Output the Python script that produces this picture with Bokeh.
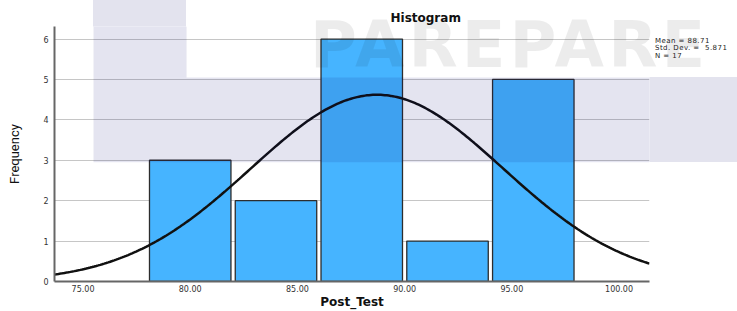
import numpy as np
from bokeh.plotting import figure
from bokeh.layouts import row
from bokeh.models import FixedTicker, BoxAnnotation, Range1d, Div
from bokeh.embed import file_html
from bokeh.resources import INLINE

# ---- data ----
bin_centers = [80, 84, 88, 92, 96]
frequencies = [3, 2, 6, 1, 5]
x_ticks = [75, 80, 85, 90, 95, 100]
x_tick_labels = ["75.00", "80.00", "85.00", "90.00", "95.00", "100.00"]
y_ticks = [0, 1, 2, 3, 4, 5, 6]
stat_mean = 88.71
stat_sd = 5.871
stat_n = 17
bin_width = 4
stats_lines = ["Mean = 88.71", "Std. Dev. =&nbsp; 5.871", "N = 17"]
watermark_text = "PAREPARE"

X_MIN, X_MAX = 73.67, 101.42
Y_MIN, Y_MAX = 0, 6.31
BAND = "#e3e3ee"

p = figure(width=652, height=311, output_backend="svg", toolbar_location=None,
           x_range=Range1d(X_MIN, X_MAX), y_range=Range1d(Y_MIN, Y_MAX),
           min_border_left=54, min_border_right=3, min_border_top=26, min_border_bottom=30)

p.background_fill_color = "white"
p.border_fill_alpha = 0
p.outline_line_color = None
# watermark band visible in the canvas borders
p.styles = {
    "background-image": f"linear-gradient({BAND},{BAND}), linear-gradient({BAND},{BAND})",
    "background-repeat": "no-repeat",
    "background-size": "93px 77px, 559px 85px",
    "background-position": "93px 0px, 93px 77px",
}

# title
p.title.text = "Histogram"
p.title.text_font = "DejaVu Sans"
p.title.text_font_style = "bold"
p.title.text_font_size = "12px"
p.title.text_color = "#111111"
p.title.align = "left"
p.title.offset = 336
p.title.standoff = 3

# grid
p.xgrid.grid_line_color = None
p.ygrid.grid_line_color = "#c6c6c6"
p.ygrid.grid_line_width = 1
p.ygrid.ticker = FixedTicker(ticks=y_ticks)

# axes
for ax in (p.xaxis[0], p.yaxis[0]):
    ax.axis_line_color = "#666666"
    ax.axis_line_width = 2
    ax.major_tick_line_color = None
    ax.minor_tick_line_color = None
    ax.major_tick_out = 0
    ax.major_tick_in = 0
    ax.minor_tick_out = 0
    ax.major_label_text_font = "DejaVu Sans"
    ax.major_label_text_font_size = "8px"
    ax.major_label_text_color = "#333333"

p.xaxis.ticker = FixedTicker(ticks=x_ticks)
p.xaxis.major_label_overrides = {t: l for t, l in zip(x_ticks, x_tick_labels)}
p.xaxis.major_label_standoff = 3
p.xaxis.axis_label = "Post_Test"
p.xaxis.axis_label_text_font = "DejaVu Sans"
p.xaxis.axis_label_text_font_style = "bold"
p.xaxis.axis_label_text_font_size = "12px"
p.xaxis.axis_label_text_color = "#111111"
p.xaxis.axis_label_standoff = 0

p.yaxis.ticker = FixedTicker(ticks=y_ticks)
p.yaxis.major_label_standoff = 6
p.yaxis.axis_label = "Frequency"
p.yaxis.axis_label_text_font = "Roboto"
p.yaxis.axis_label_text_font_style = "normal"
p.yaxis.axis_label_text_font_size = "13px"
p.yaxis.axis_label_text_color = "#111111"
p.yaxis.axis_label_standoff = 18

# bars
p.vbar(x=bin_centers, top=frequencies, bottom=0, width=3.8,
       fill_color="#46b4ff", line_color="#2d2d2d", line_width=1.3)

# normal curve from the stated mean / sd / N
xs = np.linspace(X_MIN, X_MAX, 300)
ys = stat_n * bin_width / (stat_sd * np.sqrt(2 * np.pi)) * np.exp(-0.5 * ((xs - stat_mean) / stat_sd) ** 2)
p.line(xs, ys, line_color="#111111", line_width=2.5)

# watermark band overlay inside the frame
p.add_layout(BoxAnnotation(left=75.49, bottom=2.95, top=5.05, fill_color="#000070",
                           fill_alpha=0.105, line_alpha=0))
p.add_layout(BoxAnnotation(left=75.49, right=79.83, bottom=5.05, fill_color="#000070",
                           fill_alpha=0.105, line_alpha=0))

# right-hand panel: stats text + watermark lettering that runs across the chart
side_html = (
    '<div style="position:relative; width:85px; height:311px;">'
    '<div style="position:absolute; left:-342px; top:13px; font-family:\'DejaVu Sans\'; '
    'font-weight:bold; font-size:64px; line-height:64px; letter-spacing:4px; '
    'color:rgba(0,0,0,0.075); white-space:nowrap; pointer-events:none;">'
    + watermark_text + '</div>'
    '<div style="position:absolute; left:3px; top:37.5px; font-family:\'DejaVu Sans\'; '
    'font-size:7px; line-height:7.6px; letter-spacing:0.45px; color:#222222; white-space:nowrap;">'
    + "<br>".join(stats_lines) + '</div></div>'
)
side = Div(text=side_html, width=85, height=311, styles={
    "background-image": f"linear-gradient({BAND},{BAND})",
    "background-repeat": "no-repeat",
    "background-size": "85px 85px",
    "background-position": "0px 77px",
    "margin": "0", "padding": "0", "overflow": "visible",
})

layout = row(p, side, spacing=0)
open("out.html", "w").write(file_html(layout, INLINE))
